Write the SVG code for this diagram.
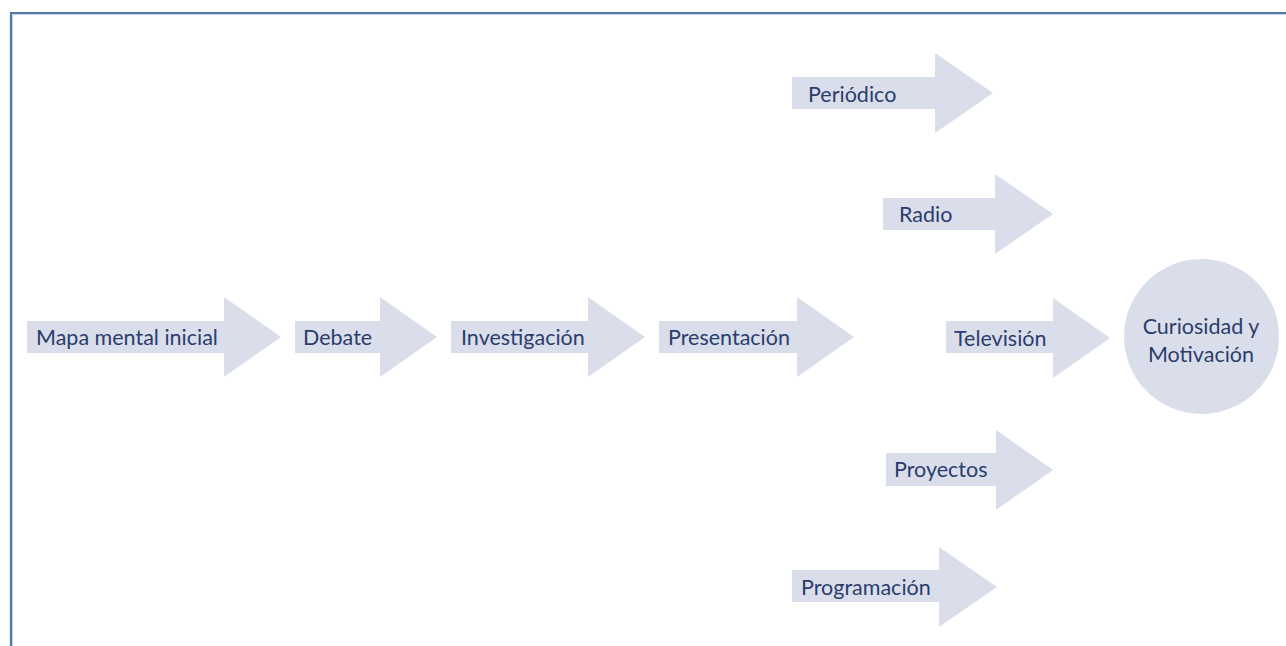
<svg xmlns="http://www.w3.org/2000/svg" width="1286" height="646" viewBox="0 0 1286 646">
<style>
.a{fill:#d9deea}
.t{font-family:Lato,"Open Sans","Liberation Sans",sans-serif;font-size:21.5px;fill:#2b3d6d}
.m{text-anchor:middle}
</style>
<rect width="1286" height="646" fill="#ffffff"/>
<g id="frame">
<path d="M11 646V13H1286" fill="none" stroke="#4f78ab" stroke-width="2.2"/>
<path d="M12.6 646V14.6H1286" fill="none" stroke="#c9d6ea" stroke-width="1"/>
</g>
<g id="connectors"></g>
<g id="mapa"><path class="a" d="M27 321H224V297L281 337L224 377V353H27Z"/><text class="t" x="36" y="345">Mapa mental inicial</text></g>
<g id="debate"><path class="a" d="M295 321H380V297L437 337L380 377V353H295Z"/><text class="t" x="303" y="345">Debate</text></g>
<g id="investigacion"><path class="a" d="M451 321H588V297L645 337L588 377V353H451Z"/><text class="t" x="461" y="345">Investigación</text></g>
<g id="presentacion"><path class="a" d="M659 321H797V297L854 337L797 377V353H659Z"/><text class="t" x="668" y="345">Presentación</text></g>
<g id="periodico"><path class="a" d="M792 77H935V53L993 93L935 133V109H792Z"/><text class="t" x="808" y="102">Periódico</text></g>
<g id="radio"><path class="a" d="M883 198H995V174L1053 214L995 254V230H883Z"/><text class="t" x="899" y="222">Radio</text></g>
<g id="television"><path class="a" d="M946 321H1053V298L1110 338L1053 378V353H946Z"/><text class="t" x="954" y="346">Televisión</text></g>
<g id="proyectos"><path class="a" d="M886 453H996V430L1053 470L996 510V486H886Z"/><text class="t" x="894" y="477">Proyectos</text></g>
<g id="programacion"><path class="a" d="M792 570H939V547L997 587L939 627V602H792Z"/><text class="t" x="801" y="595">Programación</text></g>
<g id="curiosidad"><circle class="a" cx="1201.5" cy="336.5" r="77.5"/><text class="t m" x="1201" y="334">Curiosidad y</text><text class="t m" x="1201" y="362">Motivación</text></g>
</svg>
